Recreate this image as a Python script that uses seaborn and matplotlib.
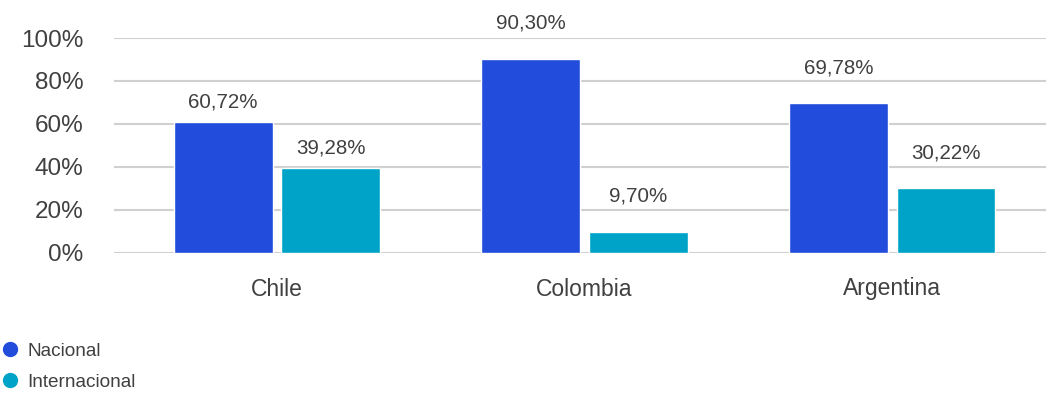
import matplotlib
matplotlib.use("Agg")
import matplotlib.pyplot as plt
from matplotlib.lines import Line2D
import seaborn as sns
import pandas as pd

# ---- data ----
countries = ["Chile", "Colombia", "Argentina"]
series_names = ["Nacional", "Internacional"]
nacional = [60.72, 90.30, 69.78]
internacional = [39.28, 9.70, 30.22]
y_ticks = [0, 20, 40, 60, 80, 100]

# ---- style ----
colors = {"Nacional": "#214CDC", "Internacional": "#00A3C8"}
text_color = "#404040"
grid_color = "#d0d0d0"
label_pad_px = {"Chile": 20, "Colombia": 36, "Argentina": 35}

df = pd.DataFrame({
    "country": countries * 2,
    "serie": [series_names[0]] * 3 + [series_names[1]] * 3,
    "value": nacional + internacional,
})

sns.set_theme(style="white")
plt.rcParams["font.family"] = ["Liberation Sans", "DejaVu Sans"]

fig = plt.figure(figsize=(10.56, 3.93), dpi=100)
ax = fig.add_axes([114 / 1056, 1 - 252.5 / 393, 932 / 1056, 214.5 / 393])

sns.barplot(data=df, x="country", y="value", hue="serie", order=countries,
            hue_order=series_names, palette=colors, width=0.70, gap=0.083,
            saturation=1, ax=ax, legend=False, zorder=3)

ax.set_ylim(0, 100)
ax.set_yticks(y_ticks)
ax.set_yticklabels([f"{t}%" for t in y_ticks], fontsize=17.5, color=text_color)
ax.set_xticks(range(len(countries)))
ax.set_xticklabels(countries, fontsize=16.5, color=text_color)
ax.tick_params(axis="y", length=0, pad=22)
ax.tick_params(axis="x", length=0, pad=18)
ax.set_xlabel("")
ax.set_ylabel("")
ax.set_xlim(-0.53, 2.50)
for s in ax.spines.values():
    s.set_visible(False)
ax.yaxis.grid(True, color=grid_color, linewidth=1.5, zorder=0)
ax.xaxis.grid(False)
ax.set_axisbelow(True)

# data labels
for container in ax.containers:
    for bar, c in zip(container, countries):
        h = bar.get_height()
        ax.annotate(f"{h:.2f}%".replace(".", ","),
                    (bar.get_x() + bar.get_width() / 2, h),
                    xytext=(0, label_pad_px[c] * 72 / 100), textcoords="offset points",
                    ha="center", va="center", fontsize=14.8, color=text_color,
                    annotation_clip=False)

handles = [Line2D([0], [0], marker="o", linestyle="", markersize=10,
                  markerfacecolor=colors[n], markeredgecolor=colors[n]) for n in series_names]
fig.legend(handles, series_names, loc="upper left", bbox_to_anchor=(0.0, 0.128),
           frameon=False, fontsize=13.7, handletextpad=0.45, labelspacing=0.72,
           handlelength=1.0, borderaxespad=0, borderpad=0,
           labelcolor=text_color)

fig.savefig("out.png", dpi=100)
